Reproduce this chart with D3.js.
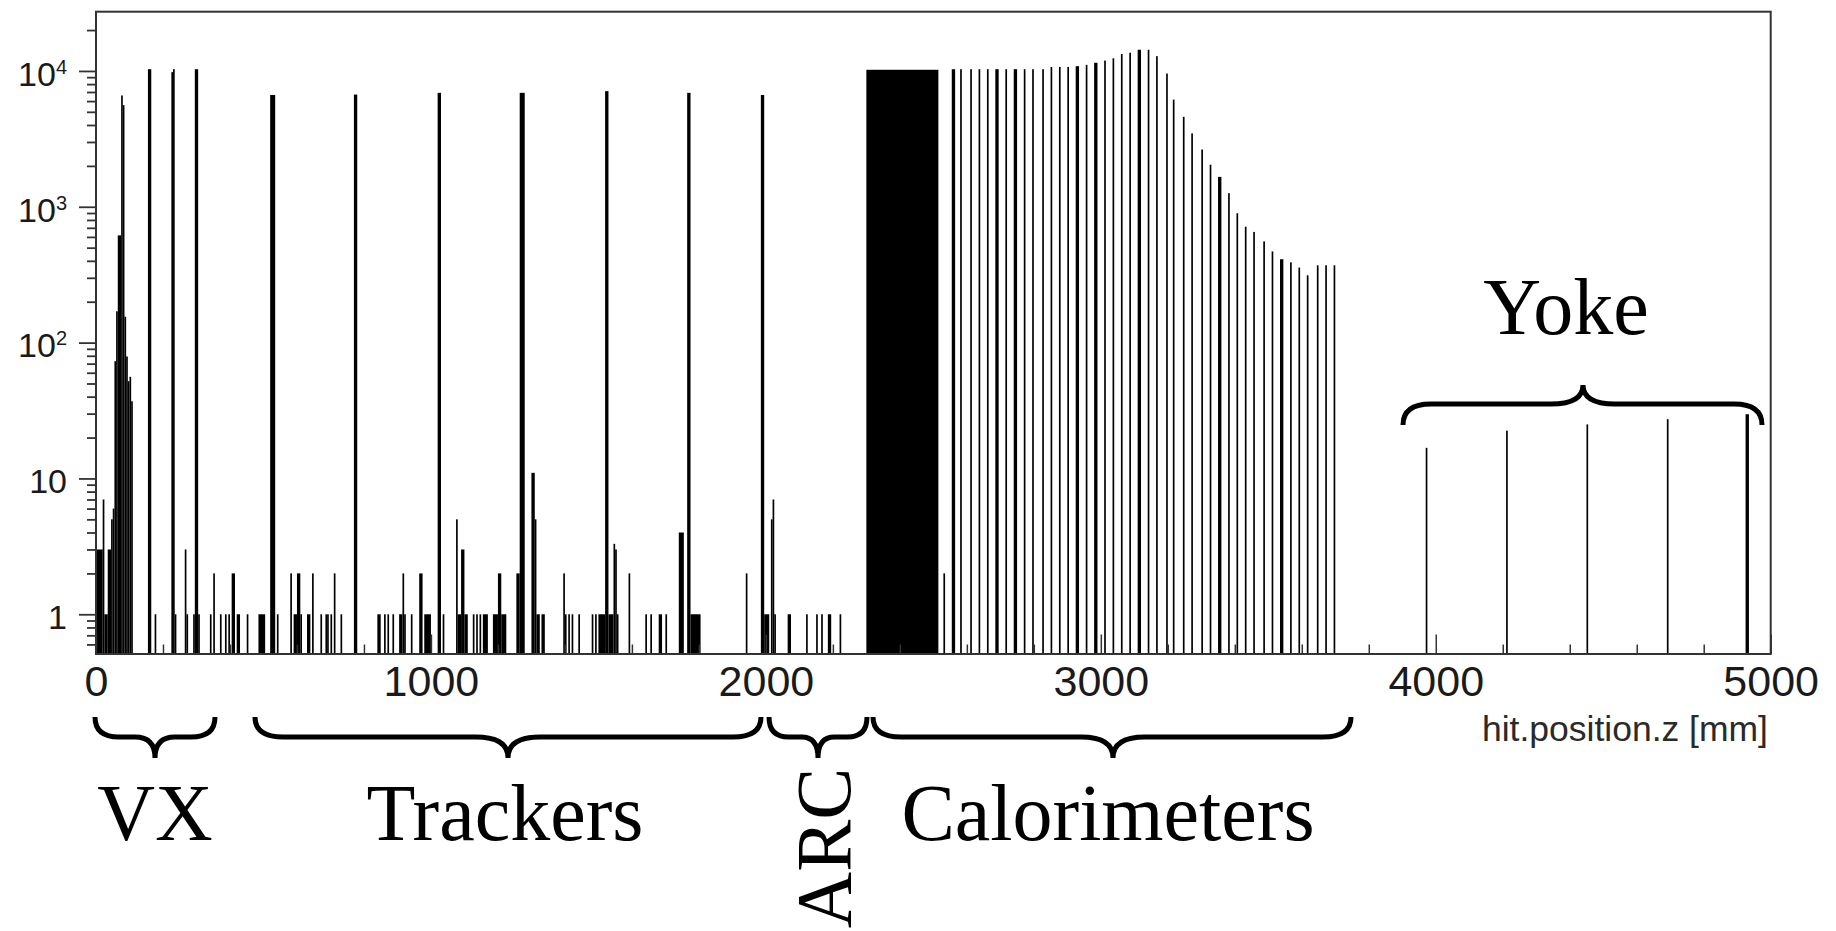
<!DOCTYPE html>
<html>
<head>
<meta charset="utf-8">
<script src="https://cdn.jsdelivr.net/npm/d3@7"></script>
<style>
  html, body { margin: 0; padding: 0; background: #fff; }
  svg { display: block; }
</style>
</head>
<body>
<svg id="chart" width="1836" height="931"></svg>
<script>
// Hit counts along z in 5 mm bins. Each entry is a run of adjacent bins
// [zLow, zHigh) in mm that share one count.
const zLow = [
  0, 20, 25, 35, 45, 50, 55, 60, 65, 75, 80, 85, 90, 95, 100, 105,
  155, 175, 225, 230, 235, 265, 270, 290, 295, 305, 340, 350, 370, 385, 395, 405, 420, 450, 485,
  520, 540, 580, 590, 600, 610, 630, 645, 670, 685, 690, 700, 710, 730, 770, 840, 860, 870, 885,
  905, 915, 920, 940, 965, 980, 1020, 1035, 1075, 1080, 1090, 1100, 1125, 1135, 1145, 1155,
  1185, 1200, 1210, 1255, 1265, 1300, 1310, 1315, 1330, 1395, 1400, 1410, 1420, 1440,
  1480, 1490, 1500, 1520, 1530, 1545, 1550, 1555, 1590, 1640, 1655, 1680, 1700, 1740, 1765, 1775,
  1940, 1985, 1995, 2015, 2020, 2025, 2065, 2120, 2150, 2165, 2185, 2220,
  2300, 2530, 2555, 2580, 2610, 2635, 2660, 2685, 2715, 2740, 2770, 2795, 2825, 2850, 2875, 2900,
  2925, 2955, 2980, 3010, 3035, 3060, 3085, 3110, 3140, 3165, 3195, 3215, 3245, 3270, 3300, 3325,
  3350, 3380, 3405, 3430, 3455, 3485, 3510, 3535, 3565, 3590, 3615, 3645, 3670, 3695,
  3970, 4210, 4450, 4690, 4925
];
const zHigh = [
  20, 25, 35, 45, 50, 55, 60, 65, 75, 80, 85, 90, 95, 100, 105, 110,
  165, 180, 230, 235, 240, 270, 275, 295, 305, 310, 345, 355, 375, 390, 400, 415, 430, 455, 505,
  535, 545, 585, 600, 610, 615, 640, 650, 675, 690, 695, 705, 715, 735, 780, 850, 865, 875, 890,
  915, 920, 925, 945, 975, 1000, 1030, 1040, 1080, 1090, 1100, 1110, 1130, 1140, 1150, 1170,
  1200, 1210, 1225, 1265, 1280, 1310, 1315, 1325, 1340, 1400, 1405, 1415, 1425, 1445,
  1485, 1495, 1520, 1530, 1545, 1550, 1555, 1560, 1595, 1645, 1660, 1690, 1705, 1755, 1775, 1805,
  1945, 1995, 2010, 2020, 2025, 2030, 2075, 2125, 2155, 2170, 2195, 2225,
  2515, 2535, 2565, 2585, 2615, 2640, 2665, 2695, 2720, 2750, 2775, 2800, 2830, 2855, 2880, 2905,
  2935, 2960, 2990, 3015, 3040, 3065, 3090, 3120, 3145, 3170, 3200, 3220, 3250, 3275, 3305, 3330,
  3360, 3385, 3410, 3435, 3460, 3490, 3515, 3545, 3570, 3595, 3620, 3650, 3675, 3700,
  3975, 4215, 4455, 4695, 4935
];
const hits = [
  3, 7, 1, 3, 5, 6, 73, 170, 616, 6600, 5600, 155, 79, 52, 56, 37,
  10300, 1, 9800, 10300, 1, 3, 1, 1, 10300, 1, 1, 2, 1, 1, 1, 2, 1, 1, 1,
  6650, 1, 2, 1, 2, 1, 1, 2, 1, 1, 1, 1, 2, 1, 6700, 1, 1, 1, 1,
  1, 2, 1, 1, 2, 1, 6900, 1, 5, 1, 3, 1, 1, 1, 1, 1,
  1, 2, 1, 2, 6900, 11, 5, 1, 1, 2, 1, 1, 1, 1,
  1, 1, 1, 7100, 1, 3.3, 3, 1, 2, 1, 1, 1, 1, 4, 6900, 1,
  2, 6650, 1, 5, 7, 1, 1, 1, 1, 1, 1, 1,
  10200, 2, 10300, 10300, 10300, 10300, 10300, 10300, 10300, 10300, 10300, 10300, 10300, 10690, 10690, 10690,
  10840, 11090, 11490, 11930, 12390, 13320, 13620, 14320, 14320, 12850, 9570, 6150, 4590, 3470, 2640, 2040,
  1660, 1260, 896, 713, 653, 556, 469, 411, 390, 357, 313, 371, 371, 371,
  16.8, 22.5, 25, 27.3, 29.7
];

// Axis ticks and labels
const xTicks = [0, 1000, 2000, 3000, 4000, 5000];
const xMinorTicks = [200, 400, 600, 800, 1200, 1400, 1600, 1800, 2200, 2400, 2600, 2800,
                     3200, 3400, 3600, 3800, 4200, 4400, 4600, 4800];
const yTicks = [1, 10, 100, 1000, 10000];
const yTickBase = ["1", "10", "10", "10", "10"];
const yTickExp = ["", "", "2", "3", "4"];
const yMinorTicks = [0.6, 0.7, 0.8, 0.9,
  2, 3, 4, 5, 6, 7, 8, 9,
  20, 30, 40, 50, 60, 70, 80, 90,
  200, 300, 400, 500, 600, 700, 800, 900,
  2000, 3000, 4000, 5000, 6000, 7000, 8000, 9000, 20000];

// Detector regions marked under / over the histogram
const regionNames = ["VX", "Trackers", "ARC", "Calorimeters", "Yoke"];

const svg = d3.select("#chart");
const frame = { left: 96, right: 1770.7, top: 11.7, bottom: 654 };

const x = d3.scaleLinear().domain([0, 5000]).range([frame.left, frame.right]);
const y = d3.scaleLog().domain([0.51, 27300]).range([frame.bottom, frame.top]);

// Histogram bins
svg.append("g")
  .selectAll("rect")
  .data(d3.range(hits.length))
  .join("rect")
  .attr("x", i => x(zLow[i]))
  .attr("width", i => x(zHigh[i]) - x(zLow[i]))
  .attr("y", i => y(hits[i]))
  .attr("height", i => frame.bottom - y(hits[i]))
  .attr("fill", "#000");

// Frame
svg.append("rect")
  .attr("x", frame.left).attr("y", frame.top)
  .attr("width", frame.right - frame.left)
  .attr("height", frame.bottom - frame.top)
  .attr("fill", "none")
  .attr("stroke", "#333")
  .attr("stroke-width", 2);

// Y axis (ticks outside, log labels with exponents)
const yMinorG = svg.append("g")
  .attr("transform", `translate(${frame.left},0)`)
  .attr("color", "#333")
  .call(d3.axisLeft(y).tickValues(yMinorTicks).tickSize(9).tickFormat(""));
yMinorG.select(".domain").remove();
yMinorG.selectAll(".tick line").attr("stroke-width", 1.8);

const yG = svg.append("g")
  .attr("transform", `translate(${frame.left},0)`)
  .attr("color", "#333")
  .call(d3.axisLeft(y).tickValues(yTicks).tickSize(17).tickPadding(12));
yG.select(".domain").remove();
yG.selectAll(".tick line").attr("stroke-width", 1.8);
yG.selectAll(".tick text")
  .attr("fill", "#1a1a1a")
  .attr("font-family", "'Liberation Sans', Arial, Helvetica, sans-serif")
  .attr("font-size", 34)
  .attr("dy", "0.42em")
  .each(function (d, i) {
    const t = d3.select(this).text(null);
    t.append("tspan").text(yTickBase[i]);
    if (yTickExp[i]) {
      t.append("tspan").attr("dy", -12).attr("font-size", 20).text(yTickExp[i]);
    }
  });

// X axis (ticks inside the frame, pointing up)
const xMinorG = svg.append("g")
  .attr("transform", `translate(0,${frame.bottom})`)
  .attr("color", "#333")
  .call(d3.axisBottom(x).tickValues(xMinorTicks).tickSize(-9.5).tickFormat(""));
xMinorG.select(".domain").remove();
xMinorG.selectAll(".tick line").attr("stroke-width", 1.5);

const xG = svg.append("g")
  .attr("transform", `translate(0,${frame.bottom})`)
  .attr("color", "#333")
  .call(d3.axisBottom(x).tickValues(xTicks).tickSize(-19.5).tickPadding(11).tickFormat(d3.format("d")));
xG.select(".domain").remove();
xG.selectAll(".tick line").attr("stroke-width", 1.5);
xG.selectAll(".tick text")
  .attr("fill", "#1a1a1a")
  .attr("font-family", "'Liberation Sans', Arial, Helvetica, sans-serif")
  .attr("font-size", 43);

svg.append("text")
  .attr("x", 1768).attr("y", 741)
  .attr("text-anchor", "end")
  .attr("fill", "#2a2a2a")
  .attr("font-family", "'Liberation Sans', Arial, Helvetica, sans-serif")
  .attr("font-size", 35.5)
  .text("hit.position.z [mm]");

// Curly braces marking each region
function brace(x0, x1, xt, yEnd, yBar, yTip) {
  const w = Math.abs(x1 - x0);
  const rE = Math.min(28, w / 5);
  const rT = Math.min(32, w / 6);
  return `M${x0},${yEnd} Q${x0},${yBar} ${x0 + rE},${yBar} L${xt - rT},${yBar} Q${xt},${yBar} ${xt},${yTip}` +
         `M${x1},${yEnd} Q${x1},${yBar} ${x1 - rE},${yBar} L${xt + rT},${yBar} Q${xt},${yBar} ${xt},${yTip}`;
}

const braceG = svg.append("g")
  .attr("fill", "none").attr("stroke", "#000").attr("stroke-width", 5);
braceG.append("path").attr("d", brace(95, 215, 155, 717, 737, 758));
braceG.append("path").attr("d", brace(255, 761, 508, 717, 737, 758));
braceG.append("path").attr("d", brace(769, 867, 818, 717, 737, 758));
braceG.append("path").attr("d", brace(873, 1351, 1113, 717, 737, 758));
braceG.append("path").attr("d", brace(1403, 1762, 1583, 425, 404, 385));

const labelG = svg.append("g")
  .attr("font-family", "'Liberation Serif', 'Times New Roman', serif")
  .attr("font-size", 80)
  .attr("fill", "#000")
  .attr("text-anchor", "middle");
labelG.append("text").attr("x", 155).attr("y", 840).text(regionNames[0]);
labelG.append("text").attr("x", 505).attr("y", 840).text(regionNames[1]);
labelG.append("text")
  .attr("transform", "translate(850,848) rotate(-90)")
  .attr("font-size", 78)
  .text(regionNames[2]);
labelG.append("text").attr("x", 1108).attr("y", 840).text(regionNames[3]);
labelG.append("text").attr("x", 1566).attr("y", 334).text(regionNames[4]);
</script>
</body>
</html>
